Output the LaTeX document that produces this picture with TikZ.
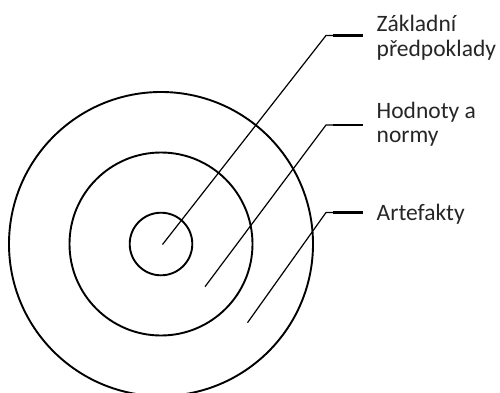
\documentclass[tikz,border=0pt]{standalone}
\usepackage{fontspec}
\setmainfont{Carlito}

\begin{document}
\begin{tikzpicture}[
  x=1pt,y=1pt,
  font=\fontsize{23.5}{24.3}\selectfont,
  ring/.style={draw=black, line width=1.9pt},
  leader/.style={black, line width=1.2pt},
  tab/.style={black, line width=2.4pt},
  lbl/.style={anchor=base west, align=left, inner sep=0pt, text=black!85}
]
\useasboundingbox (0,0) rectangle (500,392);

% Centre of the three layers.
\coordinate (C) at (161,148);

% ----------------------------- Layers -----------------------------
\draw[ring] (C) circle[radius=152];
\draw[ring] (C) circle[radius=91.5];
\draw[ring] (C) circle[radius=31.3];

% ----------------------------- Labels -----------------------------
% (base of a two-line label = base of its last line)
\node[lbl] (zaklad) at (376.5,336) {Základní\\předpoklady};
\node[lbl] (hodnoty) at (376.5,249.3) {Hodnoty a\\normy};
\node[lbl] (artef) at (376.5,171.3) {Artefakty};

% Leader lines: point in a layer, knee, short tab.
\foreach \name/\sx/\sy/\ky in {
    zaklad/162.5/147.5/356.5,
    hodnoty/205/105.3/267,
    artef/247.5/69.3/179.5}
  {
    \coordinate (\name-s) at (\sx,\sy);
    \coordinate (\name-k) at (326,\ky);
    \coordinate (\name-t) at (333,\ky);
    \coordinate (\name-e) at (363,\ky);
    \draw[leader] (\name-s) -- (\name-k) -- (\name-t);
    \draw[tab] (\name-t) -- (\name-e);
  }

\end{tikzpicture}
\end{document}
